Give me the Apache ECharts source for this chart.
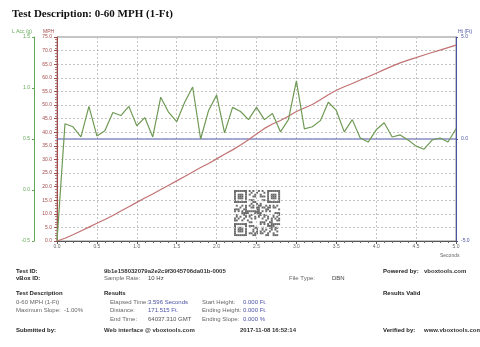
<!DOCTYPE html>
<html>
<head>
<meta charset="utf-8">
<script src="https://cdn.jsdelivr.net/npm/echarts@6/dist/echarts.min.js"></script>
<style>
  html, body { margin: 0; padding: 0; background: #fff; }
  #chart { width: 480px; height: 347px; }
</style>
</head>
<body>
<div id="chart"></div>
<script>
// Time base of the run, seconds (10 Hz samples)
const seconds = [0.0, 0.1, 0.2, 0.3, 0.4, 0.5, 0.6, 0.7, 0.8, 0.9,
  1.0, 1.1, 1.2, 1.3, 1.4, 1.5, 1.6, 1.7, 1.8, 1.9,
  2.0, 2.1, 2.2, 2.3, 2.4, 2.5, 2.6, 2.7, 2.8, 2.9,
  3.0, 3.1, 3.2, 3.3, 3.4, 3.5, 3.6, 3.7, 3.8, 3.9,
  4.0, 4.1, 4.2, 4.3, 4.4, 4.5, 4.6, 4.7, 4.8, 4.9, 5.0];

// Longitudinal acceleration (g)
const longAccG = [-0.50, 0.65, 0.62, 0.52, 0.82, 0.53, 0.58, 0.76, 0.73, 0.82,
  0.63, 0.71, 0.52, 0.91, 0.76, 0.67, 0.86, 1.01, 0.50, 0.78,
  0.93, 0.56, 0.81, 0.77, 0.69, 0.81, 0.69, 0.75, 0.57, 0.69,
  1.07, 0.60, 0.62, 0.68, 0.86, 0.78, 0.57, 0.69, 0.51, 0.47,
  0.59, 0.66, 0.52, 0.54, 0.49, 0.43, 0.40, 0.49, 0.51, 0.47, 0.60];

// Speed (MPH)
const speedMph = [0.0, 1.0, 2.3, 3.7, 5.1, 6.5, 7.9, 9.4, 11.0, 12.6,
  14.2, 15.8, 17.3, 18.9, 20.5, 22.1, 23.7, 25.4, 27.0, 28.5,
  30.2, 31.9, 33.5, 35.3, 37.2, 39.3, 41.4, 43.0, 44.3, 45.9,
  47.6, 48.9, 50.2, 51.9, 53.8, 55.4, 56.7, 57.9, 59.2, 60.4,
  61.7, 63.0, 64.3, 65.5, 66.5, 67.4, 68.4, 69.3, 70.2, 71.1, 72.0];

// Height (Ft)
const heightFt = [0, 0, 0, 0, 0, 0, 0, 0, 0, 0,
  0, 0, 0, 0, 0, 0, 0, 0, 0, 0,
  0, 0, 0, 0, 0, 0, 0, 0, 0, 0,
  0, 0, 0, 0, 0, 0, 0, 0, 0, 0,
  0, 0, 0, 0, 0, 0, 0, 0, 0, 0, 0];

const GREEN = '#6f9a55';
const GREEN_AX = '#62a854';
const RED = '#c27272';
const RED_AX = '#a34a4a';
const BLUE = '#4a52a4';
const SANS = '"Liberation Sans", Arial, sans-serif';

function pairs(xs, ys) { return xs.map((x, i) => [x, ys[i]]); }
function fmt1(v) { return Number(v).toFixed(1); }

// Text helper for the header/footer blocks
function txt(x, y, text, opt) {
  opt = opt || {};
  return {
    type: 'text', x: x, y: y, silent: true,
    style: {
      text: text,
      fontSize: opt.size || 6,
      fontFamily: opt.family || SANS,
      fontWeight: opt.bold ? 'bold' : 'normal',
      fill: opt.color || '#555',
      align: opt.align || 'left',
      verticalAlign: 'middle'
    }
  };
}

// QR badge drawn as small squares
function qrBadge(x0, y0, size) {
  const N = 25, m = size / N, kids = [];
  function finder(r, c, R, C) {
    const rr = r - R, cc = c - C;
    if (rr < 0 || cc < 0 || rr > 7 || cc > 7) return null;
    if (rr === 7 || cc === 7) return false;
    return rr === 0 || rr === 6 || cc === 0 || cc === 6 || (rr >= 2 && rr <= 4 && cc >= 2 && cc <= 4);
  }
  for (let r = 0; r < N; r++) {
    for (let c = 0; c < N; c++) {
      let d = finder(r, c, 0, 0);
      if (d === null) d = finder(r, N - 1 - c, 0, 0);
      if (d === null) d = finder(N - 1 - r, c, 0, 0);
      if (d === null) d = ((r * 31 + c * 17 + (r * c) % 7) % 5) < 2;
      if (d) kids.push({ type: 'rect', shape: { x: c * m, y: r * m, width: m + 0.1, height: m + 0.1 }, style: { fill: '#6a6a6a' } });
    }
  }
  return { type: 'group', x: x0, y: y0, silent: true, children: kids };
}

const chart = echarts.init(document.getElementById('chart'), null, { renderer: 'canvas' });

const dashed = { show: true, lineStyle: { color: '#c4c4c4', type: [2, 2], width: 1 } };

chart.setOption({
  backgroundColor: '#ffffff',
  animation: false,
  grid: { left: 57, right: 24, top: 37, bottom: 106, show: true, borderColor: '#8c8c8c', borderWidth: 1, backgroundColor: '#fff' },
  xAxis: {
    type: 'value', min: 0, max: 5, interval: 0.5,
    axisLine: { onZero: false, lineStyle: { color: '#555', width: 1 } },
    axisTick: { show: true, length: 3, lineStyle: { color: '#555' } },
    minorTick: { show: true, splitNumber: 5, length: 2, lineStyle: { color: '#666' } },
    axisLabel: { formatter: fmt1, fontSize: 5, color: '#666', margin: 3, fontFamily: SANS },
    splitLine: dashed
  },
  yAxis: [
    {
      type: 'value', position: 'left', min: 0, max: 75, interval: 5,
      axisLine: { show: true, onZero: false, lineStyle: { color: RED_AX, width: 1 } },
      axisTick: { show: true, length: 3, lineStyle: { color: RED_AX } },
      minorTick: { show: true, splitNumber: 5, length: 2, lineStyle: { color: RED } },
      axisLabel: { formatter: fmt1, fontSize: 5, color: RED_AX, margin: 5, fontFamily: SANS },
      splitLine: dashed
    },
    {
      type: 'value', position: 'left', offset: 23, min: -0.5, max: 1.5, interval: 0.5,
      axisLine: { show: true, onZero: false, lineStyle: { color: GREEN_AX, width: 1 } },
      axisTick: { show: true, length: 2, lineStyle: { color: GREEN_AX } },
      axisLabel: { formatter: fmt1, fontSize: 5, color: GREEN_AX, margin: 4, fontFamily: SANS },
      splitLine: { show: false }
    },
    {
      type: 'value', position: 'right', min: -5, max: 5, interval: 5,
      axisLine: { show: true, onZero: false, lineStyle: { color: BLUE, width: 1 } },
      axisTick: { show: true, length: 2, lineStyle: { color: BLUE } },
      axisLabel: { formatter: fmt1, fontSize: 5, color: BLUE, margin: 5, fontFamily: SANS },
      splitLine: { show: false }
    }
  ],
  series: [
    { name: 'Ht (Ft)', type: 'line', yAxisIndex: 2, data: pairs(seconds, heightFt), showSymbol: false, lineStyle: { color: BLUE, width: 1 }, z: 3 },
    { name: 'MPH', type: 'line', yAxisIndex: 0, data: pairs(seconds, speedMph), showSymbol: false, lineStyle: { color: RED, width: 1.2 }, z: 4 },
    { name: 'L Acc (g)', type: 'line', yAxisIndex: 1, data: pairs(seconds, longAccG), showSymbol: false, lineStyle: { color: GREEN, width: 1.2 }, z: 5 }
  ],
  graphic: [
    txt(12, 14, 'Test Description: 0-60 MPH (1-Ft)', { size: 11, bold: true, color: '#111', family: '"Liberation Serif", "Times New Roman", serif' }),
    txt(12, 31.5, 'L Acc (g)', { size: 5, color: GREEN_AX }),
    txt(43, 31.5, 'MPH', { size: 5, color: RED_AX }),
    txt(458, 31.5, 'Ht (Ft)', { size: 5, color: BLUE }),
    txt(440, 256, 'Seconds', { size: 5, color: '#666' }),
    qrBadge(234, 190, 46),

    txt(16, 271, 'Test ID:', { bold: true, color: '#222' }),
    txt(16, 278.5, 'vBox ID:', { bold: true, color: '#222' }),
    txt(104, 271, '9b1e158032079a2e2c9f3045706da01b-0005', { bold: true, color: '#333' }),
    txt(104, 278.5, 'Sample Rate:', { color: '#666' }),
    txt(148, 278.5, '10 Hz', { color: '#444' }),
    txt(289, 278.5, 'File Type:', { color: '#666' }),
    txt(332, 278.5, 'DBN', { color: '#444' }),
    txt(383, 271, 'Powered by:', { bold: true, color: '#222' }),
    txt(424, 271, 'vboxtools.com', { bold: true, color: '#333' }),

    txt(16, 293.5, 'Test Description', { bold: true, color: '#222' }),
    txt(16, 302, '0-60 MPH (1-Ft)', { color: '#666' }),
    txt(16, 310.5, 'Maximum Slope:  -1.00%', { color: '#666' }),
    txt(104, 293.5, 'Results', { bold: true, color: '#222' }),
    txt(383, 293.5, 'Results Valid', { bold: true, color: '#222' }),

    txt(110, 302, 'Elapsed Time:', { color: '#666' }),
    txt(110, 310.5, 'Distance:', { color: '#666' }),
    txt(110, 319, 'End Time:', { color: '#666' }),
    txt(148, 302, '3.596 Seconds', { color: BLUE }),
    txt(148, 310.5, '171.515 Ft.', { color: BLUE }),
    txt(148, 319, '64037.310 GMT', { color: '#555' }),
    txt(202, 302, 'Start Height:', { color: '#666' }),
    txt(202, 310.5, 'Ending Height:', { color: '#666' }),
    txt(202, 319, 'Ending Slope:', { color: '#666' }),
    txt(243, 302, '0.000 Ft.', { color: BLUE }),
    txt(243, 310.5, '0.000 Ft.', { color: BLUE }),
    txt(243, 319, '0.000 %', { color: BLUE }),

    txt(16, 330.5, 'Submitted by:', { bold: true, color: '#222' }),
    txt(104, 330.5, 'Web interface @ vboxtools.com', { bold: true, color: '#333' }),
    txt(240, 330.5, '2017-11-08 16:52:14', { bold: true, color: '#333' }),
    txt(383, 330.5, 'Verified by:', { bold: true, color: '#222' }),
    txt(424, 330.5, 'www.vboxtools.com', { bold: true, color: '#333' })
  ]
});
</script>
</body>
</html>
